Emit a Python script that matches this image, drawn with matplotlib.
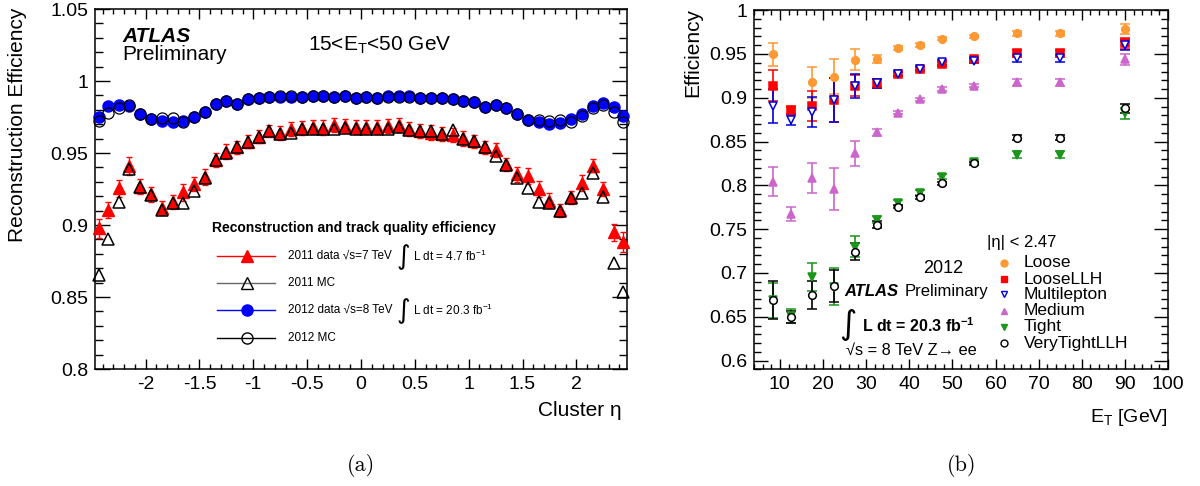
import numpy as np
import matplotlib
matplotlib.use('Agg')
import matplotlib.pyplot as plt
from matplotlib.ticker import MultipleLocator, FuncFormatter
from matplotlib.lines import Line2D

plt.rcParams['font.family'] = ['Liberation Sans', 'DejaVu Sans']
plt.rcParams['mathtext.fontset'] = 'custom'
plt.rcParams['mathtext.rm'] = 'Liberation Sans'
plt.rcParams['mathtext.it'] = 'Liberation Sans:italic'
plt.rcParams['mathtext.bf'] = 'Liberation Sans:bold'

# ---- (a) reconstruction efficiency vs cluster eta ----
eta = [-2.435, -2.35, -2.25, -2.15, -2.05, -1.95, -1.85, -1.75, -1.65, -1.55,
       -1.45, -1.35, -1.25, -1.15, -1.05, -0.95, -0.85, -0.75, -0.65, -0.55,
       -0.45, -0.35, -0.25, -0.15, -0.05,
       0.05, 0.15, 0.25, 0.35, 0.45, 0.55, 0.65, 0.75, 0.85, 0.95,
       1.05, 1.15, 1.25, 1.35, 1.45, 1.55, 1.65, 1.75, 1.85, 1.95,
       2.05, 2.15, 2.25, 2.35, 2.435]

data2012 = [0.9752, 0.9826, 0.9833, 0.9829, 0.9770, 0.9736, 0.9724, 0.9713, 0.9724, 0.9748,
            0.9787, 0.9838, 0.9861, 0.9840, 0.9875, 0.9880, 0.9887, 0.9891, 0.9891, 0.9887,
            0.9898, 0.9898, 0.9891, 0.9894, 0.9880,
            0.9887, 0.9880, 0.9894, 0.9894, 0.9894, 0.9880, 0.9880, 0.9880, 0.9873, 0.9863,
            0.9856, 0.9822, 0.9833, 0.9810, 0.9769, 0.9729, 0.9717, 0.9699, 0.9706, 0.9734,
            0.9769, 0.9829, 0.9845, 0.9822, 0.9759]

mc2012 = [0.9724, 0.9780, 0.9810, 0.9830, 0.9770, 0.9736, 0.9745, 0.9741, 0.9717, 0.9748,
          0.9787, 0.9838, 0.9861, 0.9840, 0.9875, 0.9880, 0.9890, 0.9893, 0.9893, 0.9890,
          0.9896, 0.9896, 0.9890, 0.9893, 0.9880,
          0.9887, 0.9880, 0.9892, 0.9892, 0.9892, 0.9880, 0.9880, 0.9880, 0.9875, 0.9863,
          0.9856, 0.9822, 0.9833, 0.9810, 0.9769, 0.9729, 0.9729, 0.9724, 0.9729, 0.9717,
          0.9757, 0.9810, 0.9833, 0.9787, 0.9717]

data2011 = [0.8977, 0.9104, 0.9255, 0.9410, 0.9266, 0.9213, 0.9116, 0.9158, 0.9227, 0.9285,
            0.9336, 0.9451, 0.9510, 0.9540, 0.9578, 0.9613, 0.9655, 0.9637, 0.9665, 0.9672,
            0.9679, 0.9676, 0.9694, 0.9686, 0.9680,
            0.9679, 0.9679, 0.9687, 0.9694, 0.9667, 0.9653, 0.9641, 0.9630, 0.9625, 0.9602,
            0.9583, 0.9540, 0.9521, 0.9421, 0.9352, 0.9340, 0.9250, 0.9169, 0.9104, 0.9192,
            0.9290, 0.9412, 0.9250, 0.8949, 0.8884]

data2011_err = [0.0065, 0.0055, 0.0058, 0.0060, 0.0052, 0.0050, 0.0050, 0.0050, 0.0058, 0.0050,
                0.0055, 0.0050, 0.0050, 0.0045, 0.0045, 0.0045, 0.0040, 0.0050, 0.0050, 0.0050,
                0.0050, 0.0050, 0.0050, 0.0050, 0.0050,
                0.0050, 0.0050, 0.0050, 0.0050, 0.0050, 0.0050, 0.0050, 0.0050, 0.0050, 0.0050,
                0.0045, 0.0045, 0.0050, 0.0045, 0.0050, 0.0055, 0.0055, 0.0050, 0.0045, 0.0045,
                0.0055, 0.0045, 0.0050, 0.0060, 0.0070]

mc2011 = [0.8653, 0.8900, 0.9162, 0.9389, 0.9266, 0.9210, 0.9104, 0.9154, 0.9150, 0.9238,
          0.9325, 0.9451, 0.9500, 0.9540, 0.9578, 0.9613, 0.9655, 0.9630, 0.9640, 0.9670,
          0.9670, 0.9670, 0.9670, 0.9676, 0.9670,
          0.9670, 0.9670, 0.9670, 0.9680, 0.9660, 0.9650, 0.9653, 0.9630, 0.9660, 0.9600,
          0.9580, 0.9540, 0.9480, 0.9420, 0.9324, 0.9259, 0.9162, 0.9150, 0.9100, 0.9190,
          0.9224, 0.9363, 0.9192, 0.8738, 0.8537]

# ---- (b) efficiency vs E_T ----
et = [8.5, 12.5, 17.5, 22.5, 27.5, 32.5, 37.5, 42.5, 47.5, 55, 65, 75, 90]
menus = ['Loose', 'LooseLLH', 'Multilepton', 'Medium', 'Tight', 'VeryTightLLH']
eff = {
    'Loose':        [0.9497, 0.8870, 0.9177, 0.9240, 0.9435, 0.9443, 0.9570, 0.9600, 0.9675, 0.9700, 0.9736, 0.9736, 0.9785],
    'LooseLLH':     [0.9138, 0.8860, 0.8910, 0.8975, 0.9140, 0.9165, 0.9270, 0.9330, 0.9386, 0.9440, 0.9510, 0.9510, 0.9620],
    'Multilepton':  [0.8906, 0.8747, 0.8840, 0.8975, 0.9138, 0.9165, 0.9270, 0.9333, 0.9405, 0.9420, 0.9450, 0.9450, 0.9600],
    'Medium':       [0.8043, 0.7673, 0.8088, 0.7960, 0.8366, 0.8606, 0.8830, 0.8983, 0.9100, 0.9138, 0.9177, 0.9177, 0.9440],
    'Tight':        [0.6690, 0.6510, 0.6958, 0.6844, 0.7300, 0.7605, 0.7800, 0.7917, 0.8100, 0.8270, 0.8347, 0.8347, 0.8823],
    'VeryTightLLH': [0.6690, 0.6494, 0.6750, 0.6850, 0.7243, 0.7548, 0.7757, 0.7864, 0.8024, 0.8252, 0.8545, 0.8545, 0.8880],
}
eff_err = {
    'Loose':        [0.013, 0.004, 0.018, 0.020, 0.012, 0.005, 0.002, 0.002, 0.002, 0.002, 0.003, 0.003, 0.0055],
    'LooseLLH':     [0.018, 0.004, 0.017, 0.025, 0.012, 0.005, 0.002, 0.002, 0.002, 0.002, 0.004, 0.004, 0.006],
    'Multilepton':  [0.019, 0.006, 0.017, 0.025, 0.0135, 0.005, 0.002, 0.002, 0.003, 0.002, 0.004, 0.004, 0.006],
    'Medium':       [0.017, 0.008, 0.017, 0.024, 0.014, 0.004, 0.002, 0.002, 0.002, 0.002, 0.004, 0.004, 0.006],
    'Tight':        [0.020, 0.008, 0.016, 0.021, 0.012, 0.004, 0.003, 0.003, 0.003, 0.002, 0.004, 0.004, 0.006],
    'VeryTightLLH': [0.022, 0.007, 0.016, 0.018, 0.010, 0.004, 0.002, 0.002, 0.002, 0.002, 0.003, 0.003, 0.005],
}
# colour, marker, filled
style = {
    'Loose':        ('#ff9933', 'o', True),
    'LooseLLH':     ('#ff0000', 's', True),
    'Multilepton':  ('#0000dd', 'v', False),
    'Medium':       ('#cc66cc', '^', True),
    'Tight':        ('#1a961a', 'v', True),
    'VeryTightLLH': ('#000000', 'o', False),
}

fig = plt.figure(figsize=(12, 4.86), dpi=100)
ax1 = fig.add_axes([95/1200, 117/486, 532/1200, 360/486])
ax2 = fig.add_axes([754/1200, 116.7/486, 414/1200, 359.1/486])

gfmt = FuncFormatter(lambda v, p: f'{v:g}')

def root_style(ax, ylen, xlen):
    ax.tick_params(which='both', direction='in', top=True, right=True, labelsize=14, width=1)
    ax.tick_params(axis='y', which='major', length=ylen, pad=5)
    ax.tick_params(axis='y', which='minor', length=ylen / 2)
    ax.tick_params(axis='x', which='major', length=xlen, pad=5)
    ax.tick_params(axis='x', which='minor', length=xlen / 2)
    for s in ax.spines.values():
        s.set_linewidth(1.1)
    ax.xaxis.set_major_formatter(gfmt)
    ax.yaxis.set_major_formatter(gfmt)

# --- panel (a)
ax1.errorbar(eta, data2011, yerr=data2011_err, fmt='^', color='red', ms=8,
             ecolor='red', elinewidth=1, capsize=2.5, clip_on=False, zorder=3)
ax1.plot(eta, mc2011, '^', mfc='none', mec='black', ms=8, mew=1.1, clip_on=False, zorder=4)
ax1.plot(eta, data2012, 'o', color='blue', ms=8, clip_on=False, zorder=3)
ax1.plot(eta, mc2012, 'o', mfc='none', mec='black', ms=8, mew=0.9, clip_on=False, zorder=4)

ax1.set_xlim(-2.47, 2.47)
ax1.set_ylim(0.8, 1.05)
ax1.xaxis.set_major_locator(MultipleLocator(0.5))
ax1.xaxis.set_minor_locator(MultipleLocator(0.1))
ax1.yaxis.set_major_locator(MultipleLocator(0.05))
ax1.yaxis.set_minor_locator(MultipleLocator(0.01))
root_style(ax1, 11, 7)

ax1.text(0.051, 0.924, 'ATLAS', transform=ax1.transAxes, fontsize=15,
         fontweight='bold', fontstyle='italic', va='center')
ax1.text(0.051, 0.874, 'Preliminary', transform=ax1.transAxes, fontsize=15, va='center')
ax1.text(0.40, 0.90, r'15<E$_{\mathrm{T}}$<50 GeV', transform=ax1.transAxes,
         fontsize=15, va='center')

# legend block
ax1.text(0.219, 0.3925, 'Reconstruction and track quality efficiency', transform=ax1.transAxes,
         fontsize=10, fontweight='bold', va='center')
leg_rows = [
    ('red', '^', 'red', 'red', '2011 data √s=7 TeV', 'L dt = 4.7 fb$^{-1}$'),
    ('#666666', '^', 'none', 'black', '2011 MC', None),
    ('blue', 'o', 'blue', 'blue', '2012 data √s=8 TeV', 'L dt = 20.3 fb$^{-1}$'),
    ('black', 'o', 'none', 'black', '2012 MC', None),
]
leg_y = [0.314, 0.238, 0.164, 0.087]
for (lc, mk, fc, ec, lab, lum), yy in zip(leg_rows, leg_y):
    ax1.add_line(Line2D([0.2287, 0.3383], [yy, yy], color=lc, lw=1,
                        transform=ax1.transAxes))
    ax1.add_line(Line2D([0.285], [yy], marker=mk, ms=8, mfc=fc, mec=ec, mew=1,
                        transform=ax1.transAxes))
    ax1.text(0.3634, yy, lab, transform=ax1.transAxes, fontsize=8.5, va='center')
    if lum:
        ax1.text(0.579, yy - 0.003, '∫', transform=ax1.transAxes, fontsize=19,
                 family='DejaVu Sans', ha='center', va='center')
        ax1.text(0.598, yy, lum, transform=ax1.transAxes, fontsize=8.5, va='center')

# --- panel (b)
for m in menus:
    c, mk, filled = style[m]
    ax2.errorbar(et, eff[m], yerr=eff_err[m], fmt=mk, ms=5.5,
                 mfc=c if filled else 'white', mec=c, mew=1.1,
                 ecolor=c, elinewidth=1.2, capsize=3.8, capthick=1.2, zorder=3)

ax2.set_xlim(4, 100)
ax2.set_ylim(0.59, 1.0)
ax2.xaxis.set_major_locator(MultipleLocator(10))
ax2.xaxis.set_minor_locator(MultipleLocator(2))
ax2.yaxis.set_major_locator(MultipleLocator(0.05))
ax2.yaxis.set_minor_locator(MultipleLocator(0.01))
root_style(ax2, 10, 7)

ax2.text(0.563, 0.352, '|η| < 2.47', transform=ax2.transAxes, fontsize=12, va='center')
leg2_y = [0.297, 0.251, 0.209, 0.1626, 0.1186, 0.0724]
for m, yy in zip(menus, leg2_y):
    c, mk, filled = style[m]
    ax2.add_line(Line2D([0.6046], [yy], marker=mk, ms=5, mfc=c if filled else 'white',
                        mec=c, mew=1, transform=ax2.transAxes))
    ax2.text(0.652, yy, m, transform=ax2.transAxes, fontsize=12.5, va='center')

ax2.text(0.4565, 0.2794, '2012', transform=ax2.transAxes, fontsize=13,
         ha='center', va='center')
ax2.text(0.2174, 0.216, 'ATLAS', transform=ax2.transAxes, fontsize=12,
         fontweight='bold', fontstyle='italic', va='center')
ax2.text(0.3647, 0.216, 'Preliminary', transform=ax2.transAxes, fontsize=12, va='center')
ax2.text(0.227, 0.125, '∫', transform=ax2.transAxes, fontsize=24,
         family='DejaVu Sans', ha='center', va='center')
ax2.text(0.2609, 0.1206, 'L dt = 20.3 fb$^{\\mathbf{-1}}$', transform=ax2.transAxes,
         fontsize=11.5, fontweight='bold', va='center')
ax2.text(0.2222, 0.054, '√s = 8 TeV Z→ ee', transform=ax2.transAxes, fontsize=11.8, va='center')

# axis titles, ROOT style placement
fig.text(0.015, 0.9835, 'Reconstruction Efficiency', rotation=90, fontsize=15,
         ha='center', va='top')
fig.text(0.518, 0.155, 'Cluster η', fontsize=15, ha='right', va='center')
fig.text(0.5775, 0.9835, 'Efficiency', rotation=90, fontsize=15, ha='center', va='top')
fig.text(0.973, 0.14, r'E$_{\mathrm{T}}$ [GeV]', fontsize=14, ha='right', va='center')

fig.text(0.301, 0.043, '(a)', fontsize=16, family='cmr10', ha='center', va='center')
fig.text(0.801, 0.043, '(b)', fontsize=16, family='cmr10', ha='center', va='center')

fig.savefig('out.png', dpi=100)
